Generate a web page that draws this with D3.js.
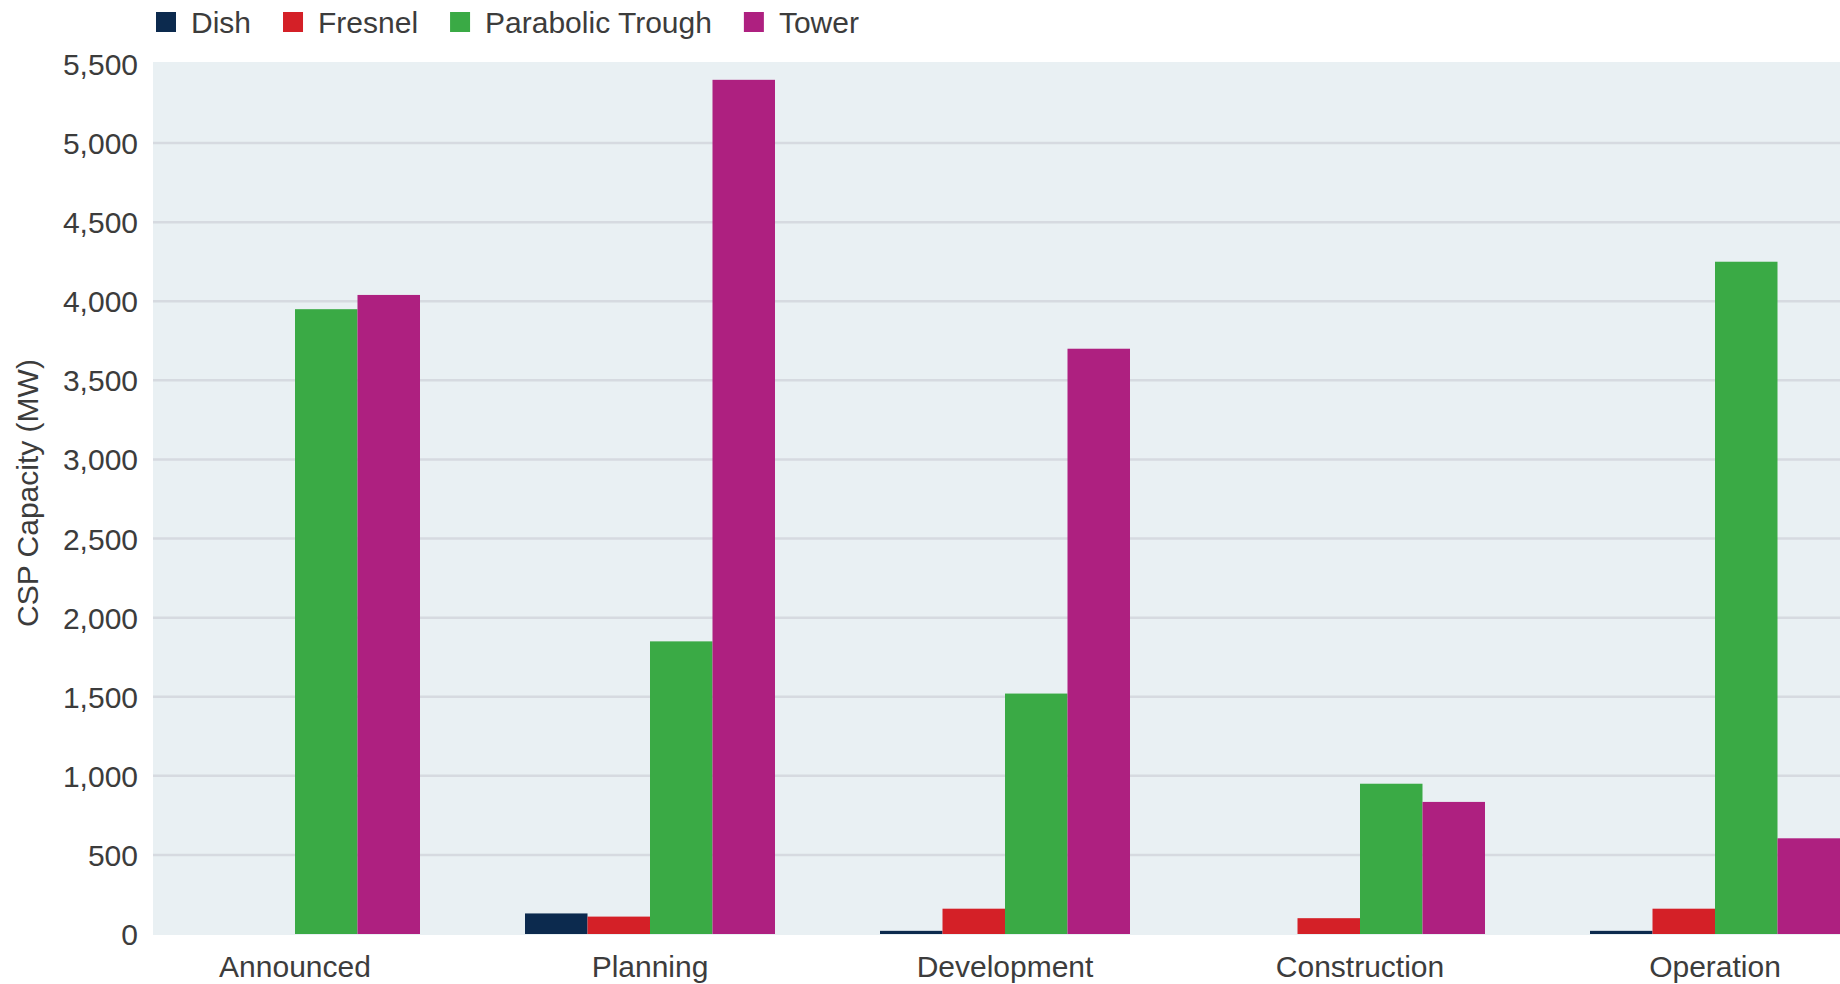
<!DOCTYPE html>
<html>
<head>
<meta charset="utf-8">
<script src="https://cdn.jsdelivr.net/npm/d3@7"></script>
<style>
  html, body { margin: 0; padding: 0; background: #ffffff; overflow: hidden; }
  svg { display: block; font-family: "Liberation Sans", Arial, Helvetica, sans-serif; }
</style>
</head>
<body>
<svg id="chart" width="1840" height="984"></svg>
<script>
// CSP capacity (MW) by project stage and technology
const stages = ["Announced", "Planning", "Development", "Construction", "Operation"];
const seriesNames = ["Dish", "Fresnel", "Parabolic Trough", "Tower"];
const dish = [0, 130, 20, 0, 20];
const fresnel = [0, 110, 160, 100, 160];
const parabolicTrough = [3950, 1850, 1520, 950, 4250];
const tower = [4040, 5400, 3700, 835, 605];
const yTicks = [0, 500, 1000, 1500, 2000, 2500, 3000, 3500, 4000, 4500, 5000, 5500];
const colors = ["#0c2a4e", "#d42027", "#3aaa45", "#ae2080"];

const seriesValues = [dish, fresnel, parabolicTrough, tower];

const svg = d3.select("#chart");
const FONT = 30;
const TEXT = "#3c3c3c";
const plot = { left: 153, right: 1857, top: 62, bottom: 935 };

const x0 = d3.scaleBand()
  .domain(stages)
  .range([plot.left, plot.right])
  .paddingInner(0.2958)
  .paddingOuter(0.0479);

const x1 = d3.scaleBand()
  .domain(seriesNames)
  .range([0, x0.bandwidth()])
  .padding(0);

const y = d3.scaleLinear()
  .domain([0, 5500])
  .range([934, 64]);

// plot background
svg.append("rect")
  .attr("x", plot.left)
  .attr("y", plot.top)
  .attr("width", plot.right - plot.left)
  .attr("height", plot.bottom - plot.top)
  .attr("fill", "#e9f0f3");

// horizontal grid lines
svg.append("g")
  .selectAll("line")
  .data(yTicks.filter(v => v > 0 && v < 5500))
  .join("line")
  .attr("x1", plot.left)
  .attr("x2", plot.right)
  .attr("y1", d => y(d))
  .attr("y2", d => y(d))
  .attr("stroke", "#d6dae0")
  .attr("stroke-width", 2.5);

// y axis tick labels
const yAxis = d3.axisLeft(y)
  .tickValues(yTicks)
  .tickFormat(d3.format(","))
  .tickSize(0)
  .tickPadding(0);
const yg = svg.append("g")
  .attr("transform", "translate(138,0)")
  .call(yAxis);
yg.select(".domain").remove();
yg.selectAll("text")
  .attr("font-size", FONT)
  .attr("font-family", "'Liberation Sans', Arial, sans-serif")
  .attr("fill", TEXT)
  .attr("dy", "0.35em");

// y axis title
svg.append("text")
  .attr("transform", "translate(38, 493) rotate(-90)")
  .attr("text-anchor", "middle")
  .attr("font-size", FONT)
  .attr("fill", TEXT)
  .text("CSP Capacity (MW)");

// grouped bars
const rows = stages.map((s, i) => ({
  stage: s,
  values: seriesNames.map((n, k) => ({ name: n, value: seriesValues[k][i], color: colors[k] }))
}));

svg.append("g")
  .selectAll("g")
  .data(rows)
  .join("g")
  .attr("transform", d => `translate(${x0(d.stage)},0)`)
  .selectAll("rect")
  .data(d => d.values.filter(v => v.value > 0))
  .join("rect")
  .attr("x", d => x1(d.name))
  .attr("width", x1.bandwidth())
  .attr("y", d => y(d.value))
  .attr("height", d => y(0) - y(d.value))
  .attr("fill", d => d.color);

// x axis labels
const xAxis = d3.axisBottom(x0).tickSize(0).tickPadding(0);
const xg = svg.append("g")
  .attr("transform", "translate(0,966)")
  .call(xAxis);
xg.select(".domain").remove();
xg.selectAll("text")
  .attr("font-size", FONT)
  .attr("font-family", "'Liberation Sans', Arial, sans-serif")
  .attr("fill", TEXT)
  .attr("y", 0)
  .attr("dy", "0.35em");

// legend
const legend = svg.append("g").attr("transform", "translate(156,12)");
let lx = 0;
seriesNames.forEach((name, k) => {
  const item = legend.append("g").attr("transform", `translate(${lx},0)`);
  item.append("rect")
    .attr("width", 20)
    .attr("height", 20)
    .attr("fill", colors[k]);
  const t = item.append("text")
    .attr("x", 35)
    .attr("y", 21)
    .attr("font-size", FONT)
    .attr("fill", TEXT)
    .text(name);
  const tw = t.node().getComputedTextLength();
  lx += 35 + tw + 32;
});
</script>
</body>
</html>
